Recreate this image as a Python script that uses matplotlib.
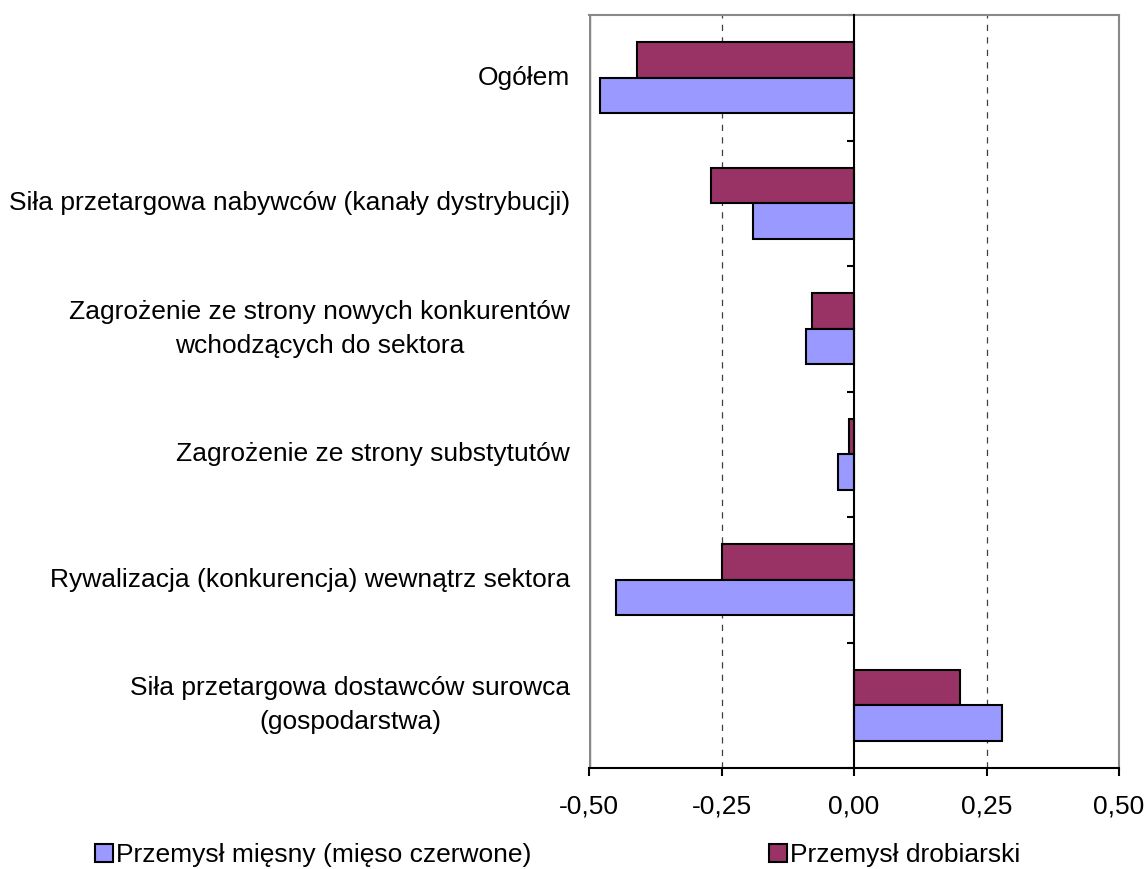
import numpy as np
import matplotlib.pyplot as plt
import matplotlib.transforms as mtransforms

plt.rcParams['font.family'] = ['Liberation Sans', 'DejaVu Sans']

categories = ['Ogółem',
              'Siła przetargowa nabywców (kanały dystrybucji)',
              'Zagrożenie ze strony nowych konkurentów\nwchodzących do sektora',
              'Zagrożenie ze strony substytutów',
              'Rywalizacja (konkurencja) wewnątrz sektora',
              'Siła przetargowa dostawców surowca\n(gospodarstwa)']
miesny = [-0.48, -0.19, -0.09, -0.03, -0.45, 0.28]
drobiarski = [-0.41, -0.27, -0.08, -0.01, -0.25, 0.20]
xticks = [-0.5, -0.25, 0.0, 0.25, 0.5]
xticklabels = ['-0,50', '-0,25', '0,00', '0,25', '0,50']

fs = 19
fig = plt.figure(figsize=(11.46, 8.69), dpi=100)
ax = fig.add_axes([589/1146, 1 - 768/869, 530/1146, 753/869])

y = np.arange(len(categories))
h = 0.283
ax.barh(y - h/2, drobiarski, height=h, color='#993366', edgecolor='black', linewidth=1.5,
        label='Przemysł drobiarski', zorder=3)
ax.barh(y + h/2, miesny, height=h, color='#9999FF', edgecolor='black', linewidth=1.5,
        label='Przemysł mięsny (mięso czerwone)', zorder=3)

ax.set_xlim(-0.5, 0.5)
ax.set_ylim(len(categories) - 0.5, -0.5)

# dashed grid lines
for g in [-0.25, 0.25]:
    ax.axvline(g, color='#404040', linestyle=(0, (5, 5)), linewidth=0.9, zorder=1)

ax.spines['left'].set_position(('data', 0))
ax.spines['left'].set_linewidth(1.5)
ax.spines['left'].set_zorder(4)
ax.spines['bottom'].set_linewidth(1.5)
for s in ['top', 'right']:
    ax.spines[s].set_color('#888888')
    ax.spines[s].set_linewidth(1.5)
ax.axvline(-0.5, color='#888888', linewidth=2.5, zorder=2)

ax.set_yticks(np.arange(-0.5, len(categories), 1.0))
ax.set_yticklabels([])
ax.tick_params(axis='y', direction='out', length=5, width=1.5)
ax.set_xticks(xticks)
ax.set_xticklabels(xticklabels, fontsize=fs)
ax.tick_params(axis='x', direction='out', length=6, width=1.5, pad=13)

trans = mtransforms.blended_transform_factory(fig.transFigure, ax.transData)
for i, c in enumerate(categories):
    ax.text(570/1146, i, c, transform=trans, ha='right', va='center',
            multialignment='center', fontsize=fs, linespacing=1.5)

handles, labels = ax.get_legend_handles_labels()
fig.legend(handles[::-1], labels[::-1], loc='center left', bbox_to_anchor=(95/1146, 1 - 855/869),
           ncol=2, frameon=False, fontsize=fs, handlelength=0.7, handleheight=0.7,
           handletextpad=0.1, columnspacing=9.0, borderaxespad=0, borderpad=0)

fig.savefig('out.png', dpi=100)
